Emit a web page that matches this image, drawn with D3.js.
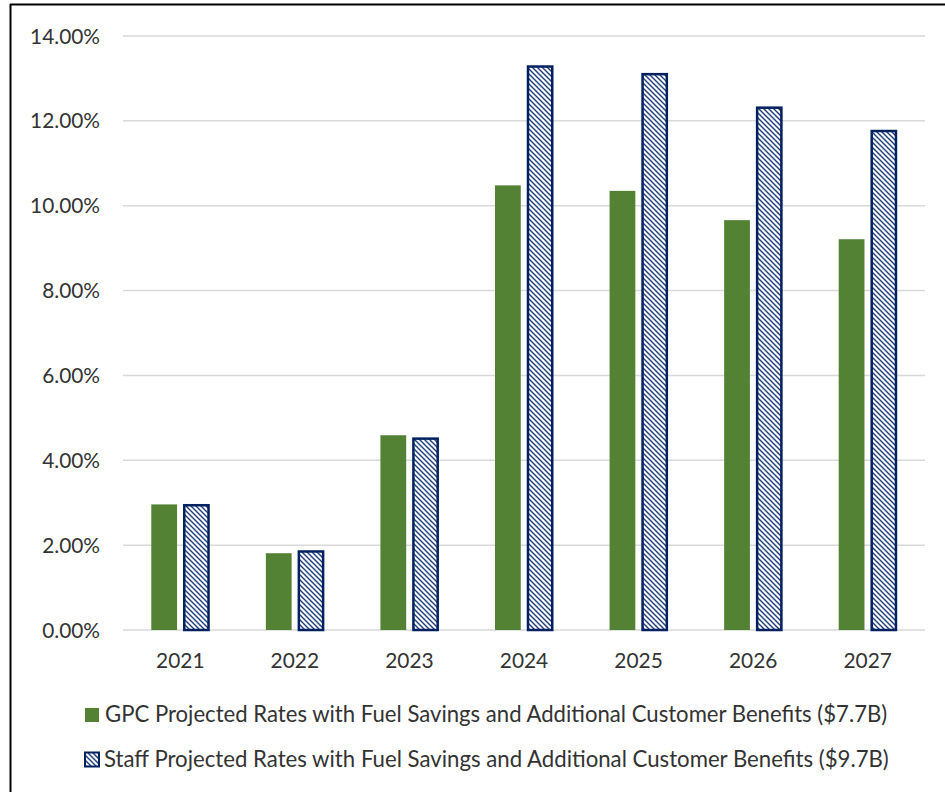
<!DOCTYPE html>
<html><head><meta charset="utf-8">
<script src="https://cdn.jsdelivr.net/npm/d3@7"></script>
<style>html,body{margin:0;padding:0;background:#fff;}svg{display:block;}</style>
</head><body>
<svg id="chart" width="945" height="792"></svg>
<script>
const years = ["2021","2022","2023","2024","2025","2026","2027"];
const gpcValues = [2.96, 1.81, 4.59, 10.48, 10.35, 9.66, 9.21];
const staffValues = [2.97, 1.88, 4.54, 13.31, 13.13, 12.34, 11.79];
const yTicks = [0, 2, 4, 6, 8, 10, 12, 14];
const seriesNames = [
  "GPC Projected Rates with Fuel Savings and Additional Customer Benefits ($7.7B)",
  "Staff Projected Rates with Fuel Savings and Additional Customer Benefits ($9.7B)"
];

(function(){
const svg = d3.select("#chart");
const FONT = "Lato, 'Open Sans', sans-serif";
const green = "#548235", navy = "#002060", grid = "#d9d9d9";

// pattern
const defs = svg.append("defs");
const pat = defs.append("pattern").attr("id","hatch").attr("patternUnits","userSpaceOnUse")
  .attr("width",5).attr("height",5);
pat.append("rect").attr("width",5).attr("height",5).attr("fill","#fff");
pat.append("path").attr("d","M-1,-1 L6,6 M-1,4 L1,6 M4,-1 L6,1")
  .attr("stroke","#1f3c7c").attr("stroke-width",1.4);

// frame
svg.append("line").attr("x1",10.5).attr("x2",10.5).attr("y1",4).attr("y2",792).attr("stroke","#000").attr("stroke-width",2);
svg.append("line").attr("x1",10).attr("x2",945).attr("y1",4.5).attr("y2",4.5).attr("stroke","#000").attr("stroke-width",2);

const pl = 123, pr = 925, pt = 36, pb = 630;
const y = d3.scaleLinear().domain([0,14]).range([pb, pt]);
const x0 = d3.scaleBand().domain(years).range([pl,pr]).paddingInner(0.485).paddingOuter(0.2425);
const x1 = d3.scaleBand().domain(["gpc","staff"]).range([0, x0.bandwidth()]).paddingInner(0.17);

// grid
svg.append("g").selectAll("line").data(yTicks).join("line")
  .attr("x1",pl).attr("x2",pr)
  .attr("y1",d=>y(d)).attr("y2",d=>y(d))
  .attr("stroke",grid).attr("stroke-width",1.5);

// y labels
const yl = svg.append("g").selectAll("text").data(yTicks).join("text")
  .attr("x",100).attr("y",d=>y(d)).attr("dy","0.36em")
  .attr("text-anchor","end").attr("font-family",FONT).attr("fill","#333")
  .attr("font-size",20).text(d=>d.toFixed(2)+"%");
{
  const n = yl.filter(d=>d===14).node();
  const w = n.getComputedTextLength();
  yl.attr("font-size", 20*70/w);
}

// bars
const g = svg.append("g");
g.selectAll("rect.gpc").data(years).join("rect").attr("class","gpc")
  .attr("x",(d)=>x0(d)+x1("gpc")+0.5).attr("width",x1.bandwidth()-1)
  .attr("y",(d,i)=>y(gpcValues[i])).attr("height",(d,i)=>y(0)-y(gpcValues[i]))
  .attr("fill",green);
g.selectAll("rect.staff").data(years).join("rect").attr("class","staff")
  .attr("x",(d)=>x0(d)+x1("staff")+1.25).attr("width",x1.bandwidth()-2.5)
  .attr("y",(d,i)=>y(staffValues[i])+1.25).attr("height",(d,i)=>y(0)-y(staffValues[i])-1.25)
  .attr("fill","url(#hatch)").attr("stroke",navy).attr("stroke-width",2.5);

// x labels
const xl = svg.append("g").selectAll("text").data(years).join("text")
  .attr("x",d=>x0(d)+x0.bandwidth()/2).attr("y",668)
  .attr("text-anchor","middle").attr("font-family",FONT).attr("fill","#333")
  .attr("font-size",20).text(d=>d);
{
  const w = xl.node().getComputedTextLength();
  xl.attr("font-size", 20*48.5/w);
}

// legend
const leg = svg.append("g");
leg.append("rect").attr("x",85).attr("y",708).attr("width",14).attr("height",14).attr("fill",green);
leg.append("rect").attr("x",85).attr("y",752.5).attr("width",14).attr("height",14)
  .attr("fill","url(#hatch)").attr("stroke",navy).attr("stroke-width",2);
const lt = leg.selectAll("text").data(seriesNames).join("text")
  .attr("x",(d,i)=>i===0?105:104).attr("y",(d,i)=>i===0?721.5:766.5)
  .attr("font-family",FONT).attr("fill","#333").attr("font-size",20).text(d=>d);
lt.each(function(d,i){
  const w = this.getComputedTextLength();
  const target = i===0 ? 783 : 785;
  d3.select(this).attr("font-size", 20*target/w);
});
})();
</script>
</body></html>
